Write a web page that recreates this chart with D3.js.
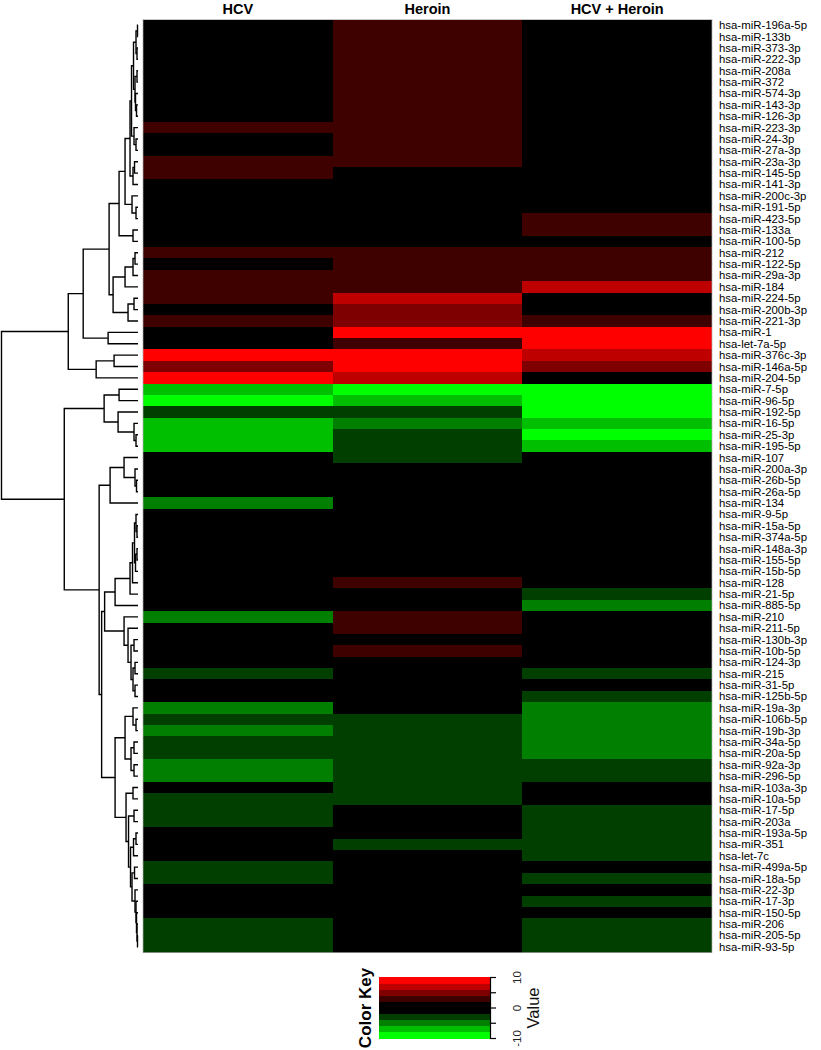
<!DOCTYPE html>
<html><head><meta charset="utf-8">
<script src="https://cdn.jsdelivr.net/npm/d3@7"></script>
<style>body{margin:0;background:#fff}</style>
</head><body>
<svg id="chart" width="821" height="1050"></svg>
<script>
const rowLabels = ["hsa-miR-196a-5p","hsa-miR-133b","hsa-miR-373-3p","hsa-miR-222-3p","hsa-miR-208a","hsa-miR-372","hsa-miR-574-3p","hsa-miR-143-3p","hsa-miR-126-3p","hsa-miR-223-3p","hsa-miR-24-3p","hsa-miR-27a-3p","hsa-miR-23a-3p","hsa-miR-145-5p","hsa-miR-141-3p","hsa-miR-200c-3p","hsa-miR-191-5p","hsa-miR-423-5p","hsa-miR-133a","hsa-miR-100-5p","hsa-miR-212","hsa-miR-122-5p","hsa-miR-29a-3p","hsa-miR-184","hsa-miR-224-5p","hsa-miR-200b-3p","hsa-miR-221-3p","hsa-miR-1","hsa-let-7a-5p","hsa-miR-376c-3p","hsa-miR-146a-5p","hsa-miR-204-5p","hsa-miR-7-5p","hsa-miR-96-5p","hsa-miR-192-5p","hsa-miR-16-5p","hsa-miR-25-3p","hsa-miR-195-5p","hsa-miR-107","hsa-miR-200a-3p","hsa-miR-26b-5p","hsa-miR-26a-5p","hsa-miR-134","hsa-miR-9-5p","hsa-miR-15a-5p","hsa-miR-374a-5p","hsa-miR-148a-3p","hsa-miR-155-5p","hsa-miR-15b-5p","hsa-miR-128","hsa-miR-21-5p","hsa-miR-885-5p","hsa-miR-210","hsa-miR-211-5p","hsa-miR-130b-3p","hsa-miR-10b-5p","hsa-miR-124-3p","hsa-miR-215","hsa-miR-31-5p","hsa-miR-125b-5p","hsa-miR-19a-3p","hsa-miR-106b-5p","hsa-miR-19b-3p","hsa-miR-34a-5p","hsa-miR-20a-5p","hsa-miR-92a-3p","hsa-miR-296-5p","hsa-miR-103a-3p","hsa-miR-10a-5p","hsa-miR-17-5p","hsa-miR-203a","hsa-miR-193a-5p","hsa-miR-351","hsa-let-7c","hsa-miR-499a-5p","hsa-miR-18a-5p","hsa-miR-22-3p","hsa-miR-17-3p","hsa-miR-150-5p","hsa-miR-206","hsa-miR-205-5p","hsa-miR-93-5p"];
const columns = ["HCV","Heroin","HCV + Heroin"];
const hcv = [0,0,0,0,0,0,0,0,0,3,0,0,3,3,0,0,0,0,0,0,3,0,3,3,3,0,3,0,0,9,5,9,-7,-9,-3,-7,-7,-7,0,0,0,0,-5,0,0,0,0,0,0,0,0,0,-5,0,0,0,0,-3,0,0,-5,-3,-5,-3,-3,-5,-5,0,-3,-3,-3,0,0,0,-3,-3,0,0,0,-3,-3,-3];
const heroin = [3,3,3,3,3,3,3,3,3,3,3,3,3,0,0,0,0,0,0,0,3,3,3,3,7,5,5,9,3,9,9,7,-9,-7,-3,-5,-3,-3,-3,0,0,0,0,0,0,0,0,0,0,3,0,0,3,3,0,3,0,0,0,0,0,-3,-3,-3,-3,-3,-3,-3,-3,0,0,0,-3,0,0,0,0,0,0,0,0,0];
const combo = [0,0,0,0,0,0,0,0,0,0,0,0,0,0,0,0,0,3,3,0,3,3,3,7,0,0,3,9,9,7,5,0,-9,-9,-9,-7,-9,-7,0,0,0,0,0,0,0,0,0,0,0,0,-3,-5,0,0,0,0,0,-3,0,-3,-5,-5,-5,-5,-5,-3,-3,0,0,-3,-3,-3,-3,-3,0,-3,0,-3,0,-3,-3,-3];
const keyBreaks = [-10,-8,-6,-4,-2,2,4,6,8,10];
const keyColors = ["#00FF00","#00BF00","#007F00","#003F00","#000000","#3F0000","#7F0000","#BF0000","#FF0000"];
const keyTicks = [-10,-5,0,5,10];
const keyTickLabels = ["-10","","0","","10"];
// dendrogram subtrees: [mergeHeight, left, right]; leaves = row index
const topA0 = [0.45,[0.2,[0.05,0,1],[0.1,2,3]],[0.3,[0.1,4,5],[0.25,6,[0.15,7,8]]]];
const topU = [0.8,[0.65,topA0,[0.4,9,[0.2,10,11]]],[0.5,[0.35,12,13],14]];
const topS = [1.3,topU,[0.6,15,[0.2,16,17]]];
const topQ = [1.9,topS,[0.5,18,19]];
const topR = [2.5,[1.3,[0.5,[0.3,20,21],22],23],[1.0,[0.4,24,25],26]];
const topA = [5.5,[2.9,topQ,topR],[3.0,27,28]];
const upper = [7.0,topA,[4.2,[2.4,29,30],31]];
const lowL1 = [3.4,[1.9,32,33],[2.0,34,[0.4,35,[0.2,36,37]]]];
const lowL2a = [2.8,[1.4,38,[0.3,39,[0.15,40,41]]],42];
const lowX1 = [2.3,[0.8,[0.55,[0.35,[0.2,43,[0.1,44,45]],[0.25,[0.1,46,47],48]],49],50],51];
const lowX2 = [1.4,52,[1.0,53,[0.7,[0.4,54,55],[0.5,[0.3,56,57],[0.3,58,59]]]]];
const lowG1 = [1.3,[0.5,60,[0.2,61,62]],[0.7,[0.4,63,64],[0.4,65,66]]];
const lowG2 = [1.2,[0.5,67,68],[0.95,[0.4,69,70],[0.75,[0.45,[0.2,71,72],73],[0.6,[0.35,74,75],[0.3,76,[0.2,77,[0.15,78,[0.1,79,[0.05,80,81]]]]]]]]];
const lower = [7.4,lowL1,[3.9,lowL2a,[3.65,[3.35,lowX1,lowX2],[2.3,lowG1,lowG2]]]];
const dendro = [13.7,upper,lower];

const series = [hcv, heroin, combo];
const svg = d3.select("#chart");
const x0 = 143, x1 = 712, y0 = 19.5, y1 = 952.5;
const yBand = d3.scaleBand().domain(d3.range(rowLabels.length)).range([y0, y1]);
const xBand = d3.scaleBand().domain(columns).range([x0, x1]);
const color = d3.scaleThreshold().domain(keyBreaks.slice(1, -1)).range(keyColors);
const nRows = rowLabels.length;

// heatmap cells
const cells = [];
columns.forEach((c, j) => rowLabels.forEach((r, i) => cells.push({c, j, i, v: series[j][i]})));
svg.append("g").attr("shape-rendering", "crispEdges")
  .selectAll("rect").data(cells).join("rect")
  .attr("x", d => xBand(d.c))
  .attr("y", d => yBand(d.i))
  .attr("width", d => xBand.bandwidth() + (d.j < columns.length - 1 ? 0.6 : 0))
  .attr("height", d => yBand.bandwidth() + (d.i < nRows - 1 ? 0.6 : 0))
  .attr("fill", d => color(d.v));
svg.append("rect").attr("x", x0).attr("y", y0).attr("width", x1 - x0).attr("height", y1 - y0)
  .attr("fill", "none").attr("stroke", "#b0b0b0").attr("stroke-width", 0.7);

// column headers
svg.append("g").selectAll("text").data(columns).join("text")
  .attr("x", d => xBand(d) + xBand.bandwidth() / 2)
  .attr("y", 13.5)
  .attr("text-anchor", "middle")
  .attr("font-family", "'Liberation Sans', Arial, sans-serif")
  .attr("font-weight", "bold").attr("font-size", 14.5)
  .text(d => d);

// row labels
svg.append("g").selectAll("text").data(rowLabels).join("text")
  .attr("x", 719)
  .attr("y", (d, i) => yBand(i) + yBand.bandwidth() / 2)
  .attr("dy", "0.35em")
  .attr("font-family", "'Liberation Sans', Arial, sans-serif")
  .attr("font-size", 11.4)
  .text(d => d);

// dendrogram
const root = d3.hierarchy(dendro, d => Array.isArray(d) ? [d[1], d[2]] : null);
const hScale = d3.scaleLinear().domain([0, dendro[0]]).range([138, 1.5]);
root.eachAfter(n => {
  if (n.children) {
    n.h = n.data[0];
    n.yy = (n.children[0].yy + n.children[1].yy) / 2;
  } else {
    n.h = 0;
    n.yy = yBand(n.data) + yBand.bandwidth() / 2;
  }
  n.xx = hScale(n.h);
});
const segs = [];
root.each(n => {
  if (!n.children) return;
  const [a, b] = n.children;
  segs.push(`M${a.xx},${a.yy}H${n.xx}V${b.yy}H${b.xx}`);
});
svg.append("g").selectAll("path").data(segs).join("path")
  .attr("d", d => d).attr("fill", "none").attr("stroke", "#000").attr("stroke-width", 1.4);

// color key
const kx0 = 379, kx1 = 490;
const kY = d3.scaleLinear().domain([-10, 10]).range([1038, 977]);
const bins = keyColors.map((c, i) => ({c, lo: keyBreaks[i], hi: keyBreaks[i + 1]}));
svg.append("g").attr("shape-rendering", "crispEdges")
  .selectAll("rect").data(bins).join("rect")
  .attr("x", kx0).attr("width", kx1 - kx0)
  .attr("y", d => kY(d.hi)).attr("height", d => kY(d.lo) - kY(d.hi) + 0.5)
  .attr("fill", d => d.c);
const axis = svg.append("g").attr("transform", `translate(${kx1},0)`)
  .call(d3.axisRight(kY).tickValues(keyTicks).tickFormat((d, i) => keyTickLabels[i]).tickSize(6).tickSizeOuter(0));
axis.select(".domain").attr("stroke", "#000").attr("stroke-width", 1.2);
axis.selectAll(".tick line").attr("stroke", "#000").attr("stroke-width", 1.2);
axis.selectAll(".tick text")
  .attr("transform", "rotate(-90)")
  .attr("x", 0).attr("y", 31).attr("dy", 0)
  .attr("text-anchor", "middle")
  .attr("font-family", "'Liberation Sans', Arial, sans-serif")
  .attr("font-size", 11.5).attr("fill", "#222");
svg.append("text")
  .attr("transform", "translate(539,1008) rotate(-90)")
  .attr("text-anchor", "middle")
  .attr("font-family", "'Liberation Sans', Arial, sans-serif")
  .attr("font-size", 16.5).attr("fill", "#111")
  .text("Value");
svg.append("text")
  .attr("transform", "translate(371,1008) rotate(-90)")
  .attr("text-anchor", "middle")
  .attr("font-family", "'Liberation Sans', Arial, sans-serif")
  .attr("font-weight", "bold").attr("font-size", 17)
  .text("Color Key");
</script>
</body></html>
